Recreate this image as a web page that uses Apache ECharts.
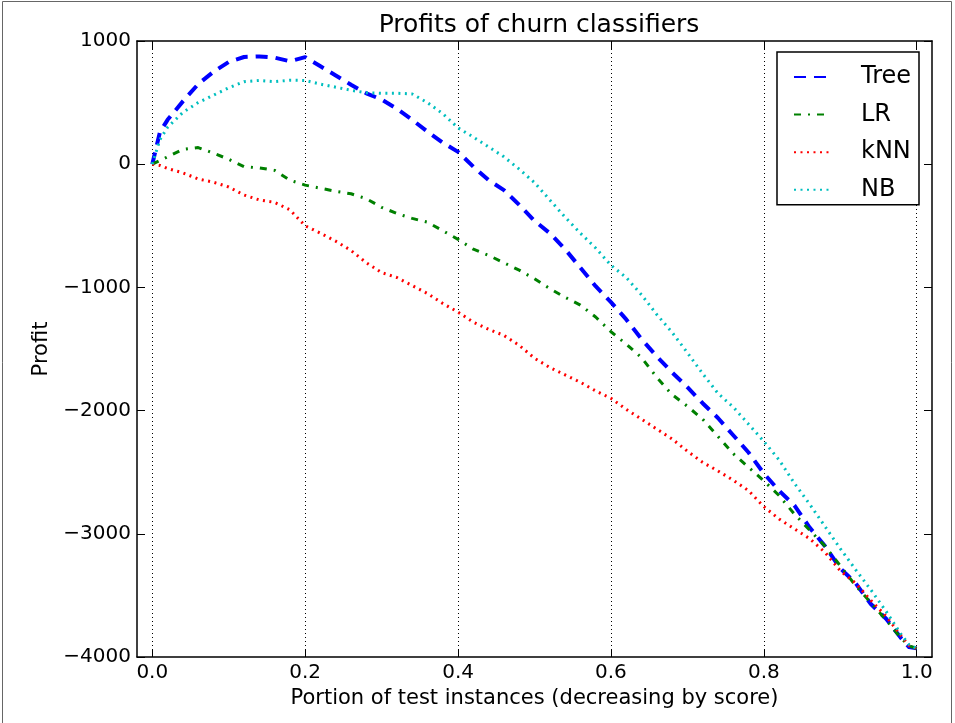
<!DOCTYPE html>
<html>
<head>
<meta charset="utf-8">
<script src="https://cdn.jsdelivr.net/npm/echarts@6/dist/echarts.min.js"></script>
<style>
html,body{margin:0;padding:0;background:#fff;}
#chart{width:955px;height:723px;}
</style>
</head>
<body>
<div id="chart"></div>
<script>
const portion = [0, 0.01, 0.02, 0.04, 0.06, 0.08, 0.10, 0.12, 0.14, 0.16, 0.18, 0.20, 0.22, 0.24, 0.26, 0.28, 0.30, 0.32, 0.34, 0.36, 0.38, 0.40, 0.42, 0.44, 0.46, 0.48, 0.50, 0.52, 0.54, 0.56, 0.58, 0.60, 0.62, 0.64, 0.66, 0.68, 0.70, 0.72, 0.74, 0.76, 0.78, 0.80, 0.82, 0.84, 0.86, 0.88, 0.90, 0.92, 0.94, 0.96, 0.98, 0.99, 1.00];

const tree = [0, 260, 360, 510, 650, 750, 830, 870, 875, 865, 836, 869, 795, 720, 645, 575, 525, 450, 360, 265, 175, 100, -20, -130, -210, -330, -460, -560, -690, -840, -990, -1120, -1260, -1420, -1560, -1690, -1810, -1940, -2060, -2200, -2340, -2510, -2650, -2770, -2950, -3100, -3280, -3400, -3570, -3690, -3850, -3920, -3930];

const lr = [0, 30, 60, 120, 135, 90, 40, -20, -30, -50, -130, -170, -195, -220, -240, -280, -350, -400, -440, -471, -540, -610, -690, -740, -800, -860, -930, -1010, -1080, -1144, -1240, -1360, -1460, -1570, -1730, -1870, -1965, -2070, -2210, -2350, -2460, -2570, -2690, -2840, -2970, -3100, -3260, -3420, -3560, -3700, -3850, -3910, -3930];

const knn = [0, -10, -35, -70, -120, -146, -185, -250, -290, -310, -370, -500, -560, -625, -700, -800, -880, -920, -985, -1050, -1130, -1201, -1282, -1340, -1390, -1470, -1575, -1650, -1710, -1770, -1840, -1900, -1990, -2070, -2150, -2230, -2330, -2420, -2490, -2565, -2650, -2780, -2880, -2960, -3040, -3150, -3300, -3400, -3540, -3670, -3830, -3910, -3930];

const nb = [0, 200, 300, 420, 500, 560, 620, 670, 680, 670, 682, 680, 650, 625, 600, 580, 576, 576, 570, 500, 410, 295, 220, 140, 60, -40, -150, -290, -430, -560, -680, -820, -920, -1060, -1220, -1365, -1530, -1700, -1860, -1972, -2110, -2250, -2400, -2590, -2760, -2940, -3120, -3290, -3455, -3630, -3820, -3900, -3930];

const seriesNames = ['Tree', 'LR', 'kNN', 'NB'];
const xTicks = [0, 0.2, 0.4, 0.6, 0.8, 1.0];
const xMin = -0.02, xMax = 1.02;
const yMin = -4000, yMax = 1000, yStep = 1000;

const chart = echarts.init(document.getElementById('chart'), null, {renderer: 'canvas'});
const font = "'DejaVu Sans', sans-serif";
const pair = arr => portion.map((x, i) => [x, arr[i]]);

function mkSeries(name, arr, color, dash, width) {
  return {
    name: name, type: 'line', data: pair(arr), symbol: 'none', smooth: false,
    lineStyle: {color: color, width: width, type: dash, cap: 'butt', join: 'round'},
    itemStyle: {color: color},
    emphasis: {disabled: true}, animation: false
  };
}

const axisLineStyle = {color: '#000', width: 1.5};
const tickStyle = {color: '#000', width: 1};
const option = {
  animation: false,
  backgroundColor: '#fff',
  title: {
    text: 'Profits of churn classifiers',
    left: 534, top: 8, textAlign: 'center',
    textStyle: {fontFamily: font, fontSize: 25, fontWeight: 'normal', color: '#000'}
  },
  grid: {left: 137, right: 23, top: 41, bottom: 66, containLabel: false},
  legend: {
    data: seriesNames, orient: 'vertical', right: 36, top: 52,
    itemWidth: 36, itemHeight: 14, itemGap: 13.6,
    padding: [13, 8, 3, 16],
    borderColor: '#000', borderWidth: 1.5, backgroundColor: '#fff',
    itemStyle: {opacity: 0, borderWidth: 0},
    textStyle: {fontFamily: font, fontSize: 24, color: '#000', padding: [0, 0, 0, 26]},
    selectedMode: false
  },
  xAxis: [{
    type: 'value', position: 'bottom', min: xMin, max: xMax,
    axisLine: {show: true, onZero: false, lineStyle: axisLineStyle},
    axisTick: {show: true, inside: true, length: 8, lineStyle: tickStyle, customValues: xTicks},
    axisLabel: {show: true, margin: 6, customValues: xTicks,
      formatter: v => v.toFixed(1), fontFamily: font, fontSize: 20, color: '#000'},
    splitLine: {show: true, lineStyle: {color: '#000', width: 1, type: [1, 3]}},
    name: 'Portion of test instances (decreasing by score)', nameLocation: 'middle', nameGap: 30,
    nameTextStyle: {fontFamily: font, fontSize: 21, color: '#000'}
  }, {
    type: 'value', position: 'top', min: xMin, max: xMax,
    axisLine: {show: true, onZero: false, lineStyle: axisLineStyle},
    axisTick: {show: true, inside: true, length: 8, lineStyle: tickStyle, customValues: xTicks},
    axisLabel: {show: false}, splitLine: {show: false}
  }],
  yAxis: [{
    type: 'value', position: 'left', min: yMin, max: yMax, interval: yStep,
    axisLine: {show: true, onZero: false, lineStyle: axisLineStyle},
    axisTick: {show: true, inside: true, length: 8, lineStyle: tickStyle},
    axisLabel: {show: true, margin: 6, formatter: v => String(v).replace('-', '\u2212'),
      fontFamily: font, fontSize: 20, color: '#000'},
    splitLine: {show: false},
    name: 'Profit', nameLocation: 'middle', nameRotate: 90, nameGap: 78,
    nameTextStyle: {fontFamily: font, fontSize: 21, color: '#000'}
  }, {
    type: 'value', position: 'right', min: yMin, max: yMax, interval: yStep,
    axisLine: {show: true, onZero: false, lineStyle: axisLineStyle},
    axisTick: {show: true, inside: true, length: 8, lineStyle: tickStyle},
    axisLabel: {show: false}, splitLine: {show: false}
  }],
  graphic: [{
    type: 'polyline', silent: true,
    shape: {points: [[2.5, 723], [2.5, 1.5], [951.5, 1.5], [951.5, 723]]},
    style: {stroke: '#666', lineWidth: 1, fill: null}
  }],
  series: [
    mkSeries('Tree', tree, '#0000ff', [12, 8], 4),
    mkSeries('LR', lr, '#008000', [7, 7, 2, 7], 3),
    mkSeries('kNN', knn, '#ff0000', [2, 4.5], 3),
    mkSeries('NB', nb, '#00bfbf', [2, 4.5], 3)
  ]
};
chart.setOption(option);
</script>
</body>
</html>
